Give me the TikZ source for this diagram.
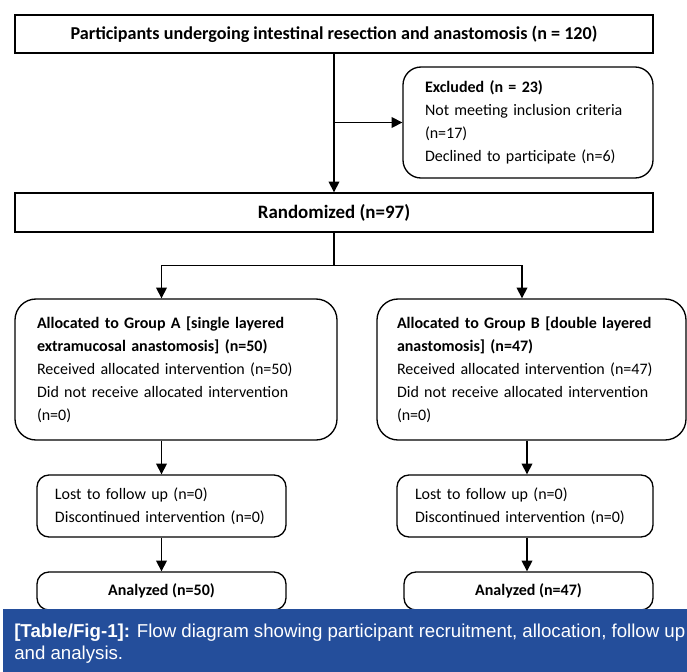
\documentclass[tikz,border=0pt]{standalone}
\usepackage{fontspec}
\setmainfont{Carlito}
\newfontfamily\capfont{Liberation Sans}
\usetikzlibrary{arrows.meta,calc}
\definecolor{capblue}{RGB}{36,78,155}
\begin{document}
\begin{tikzpicture}[x=0.75pt,y=-0.75pt,
  lw/.style={line width=1pt},
  sqbox/.style={draw, lw, inner sep=0pt, font=\fontsize{12pt}{17.25pt}\selectfont},
  rbox/.style={draw, lw, inner ysep=0pt, align=left, font=\fontsize{12pt}{17.25pt}\selectfont},
  arr/.style={lw, -{Triangle[length=8pt,width=8pt]}}]
\useasboundingbox (0,0) rectangle (687,672);

\node[sqbox, minimum width=478.5pt, minimum height=28.5pt, font=\fontsize{13.6pt}{17.25pt}\selectfont\bfseries] (top) at (334,34)
  {Participants undergoing intestinal resection and anastomosis (n = 120)};

\node[rbox, rounded corners=13.5pt, text width=154.5pt, inner xsep=16.5pt, minimum height=83.25pt] (exc) at (528,122.5)
  {\textbf{Excluded (n = 23)}\\Not meeting inclusion criteria\\(n=17)\\Declined to participate (n=6)};

\node[sqbox, minimum width=478.5pt, minimum height=29.25pt, font=\fontsize{14.2pt}{17.25pt}\selectfont\bfseries] (rand) at (334,212.5)
  {Randomized (n=97)};

\node[rbox, rounded corners=15.75pt, text width=208.5pt, inner xsep=16.5pt, minimum height=105.75pt] (ga) at (176,369.5)
  {\textbf{Allocated to Group A [single layered}\\\textbf{extramucosal anastomosis] (n=50)}\\Received allocated intervention (n=50)\\Did not receive allocated intervention\\(n=0)};

\node[rbox, rounded corners=15.75pt, text width=201.75pt, inner xsep=15pt, minimum height=105.75pt] (gb) at (531.5,369.5)
  {\textbf{Allocated to Group B [double layered}\\\textbf{anastomosis] (n=47)}\\Received allocated intervention (n=47)\\Did not receive allocated intervention\\(n=0)};

\node[rbox, rounded corners=9pt, text width=159.75pt, inner xsep=13.5pt, minimum height=46.5pt] (la) at (161.5,506)
  {Lost to follow up (n=0)\\Discontinued intervention (n=0)};

\node[rbox, rounded corners=9pt, text width=165pt, inner xsep=13.5pt, minimum height=46.5pt] (lb) at (525,506)
  {Lost to follow up (n=0)\\Discontinued intervention (n=0)};

\node[sqbox, rounded corners=9pt, minimum width=186.75pt, minimum height=28.5pt, font=\fontsize{12pt}{17.25pt}\selectfont\bfseries] (aa) at (161.5,591)
  {Analyzed (n=50)};

\node[sqbox, rounded corners=9pt, minimum width=186.75pt, minimum height=28.5pt, font=\fontsize{12pt}{17.25pt}\selectfont\bfseries] (ab) at (528.5,591)
  {Analyzed (n=47)};

\draw[arr] (top.south) -- (rand.north);
\draw[arr] (top.south |- exc.west) -- (exc.west);
\coordinate (split) at ($(rand.south)+(0,33)$);
\draw[lw] (rand.south) -- (split);
\draw[arr] (split) -| (la.north |- ga.north);
\draw[arr] (split) -| ($(lb.north |- gb.north)+(-3,0)$);
\draw[arr] (la.north |- ga.south) -- (la.north);
\draw[arr] ($(lb.north |- gb.south)+(2,0)$) -- ($(lb.north)+(2,0)$);
\draw[arr] (la.south) -- (la.south |- aa.north);
\draw[arr] ($(lb.south)+(2,0)$) -- ($(lb.south |- ab.north)+(2,0)$);

\fill[capblue] (3,609) rectangle (687,672);
\node[anchor=north west, text width=503.25pt, inner sep=0pt, align=justify, text=white,
  font=\capfont\fontsize{14pt}{16.5pt}\selectfont] (cap) at (14,624)
  {\textbf{[Table/Fig-1]:} Flow diagram showing participant recruitment, allocation, follow up\linebreak and analysis.};
\end{tikzpicture}
\end{document}
